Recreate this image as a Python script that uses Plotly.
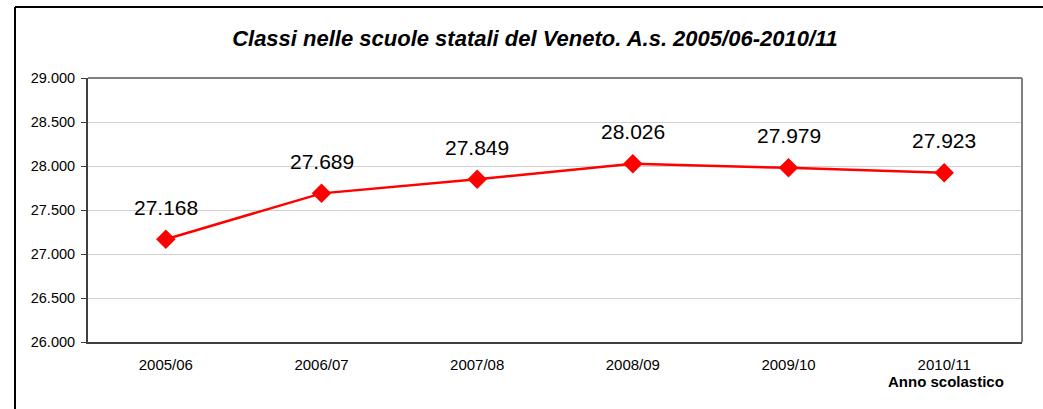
import plotly.graph_objects as go

years = ["2005/06", "2006/07", "2007/08", "2008/09", "2009/10", "2010/11"]
classes = [27168, 27689, 27849, 28026, 27979, 27923]
label_text = ["27.168", "27.689", "27.849", "28.026", "27.979", "27.923"]
y_ticks = [26000, 26500, 27000, 27500, 28000, 28500, 29000]
y_tick_text = ["26.000", "26.500", "27.000", "27.500", "28.000", "28.500", "29.000"]

W, H = 1043, 409
L, R, T, B = 88, 21, 78, 67
pw, ph = W - L - R, H - T - B
FONT = "Liberation Sans, Arial"

def px(x):
    return (x - L) / pw

def py(y):
    return (H - B - y) / ph

fig = go.Figure()
fig.add_trace(go.Scatter(
    x=years, y=classes, mode="lines+markers",
    line=dict(color="#ff0000", width=2.5),
    marker=dict(symbol="diamond", size=15, color="#ff0000"),
    cliponaxis=False, hoverinfo="skip", showlegend=False,
))

for xv, yv, t in zip(years, classes, label_text):
    fig.add_annotation(x=xv, y=yv, text=t, showarrow=False, yshift=32,
                       xanchor="center", yanchor="middle",
                       font=dict(family=FONT, size=21, color="#000"))

fig.add_annotation(x=px(946), y=py(381), xref="paper", yref="paper", text="<b>Anno scolastico</b>",
                   xanchor="center", yanchor="middle", showarrow=False,
                   font=dict(family=FONT, size=15, color="#000"))

# plot area frame
fig.add_shape(type="line", xref="paper", yref="paper", x0=0, x1=1, y0=1, y1=1,
              line=dict(color="#808080", width=2))
fig.add_shape(type="line", xref="paper", yref="paper", x0=1, x1=1, y0=0, y1=1,
              line=dict(color="#808080", width=2))
# outer chart border (left and top)
fig.add_shape(type="line", xref="paper", yref="paper", x0=px(15), x1=px(15), y0=py(415), y1=py(7),
              line=dict(color="#000", width=2))
fig.add_shape(type="line", xref="paper", yref="paper", x0=px(15), x1=px(1043), y0=py(7), y1=py(7),
              line=dict(color="#000", width=2))

fig.update_layout(
    width=W, height=H,
    margin=dict(l=L, r=R, t=T, b=B),
    paper_bgcolor="white", plot_bgcolor="white",
    separators=",.",
    title=dict(text="<b><i>Classi nelle scuole statali del Veneto. A.s. 2005/06-2010/11</i></b>",
               xref="container", yref="container",
               x=535 / W, xanchor="center", y=1 - 38 / H, yanchor="middle",
               font=dict(family=FONT, size=22, color="#000")),
    xaxis=dict(type="category", range=[-0.5, 5.5], showgrid=False,
               showline=True, linecolor="#404040", linewidth=2, mirror=False,
               ticks="", ticklabelstandoff=8,
               tickfont=dict(family=FONT, size=15, color="#000"),
               fixedrange=True),
    yaxis=dict(range=[26000, 29000], tickvals=y_ticks, ticktext=y_tick_text,
               showgrid=True, gridcolor="#d0d0d0", gridwidth=1,
               showline=True, linecolor="#404040", linewidth=2,
               ticks="outside", ticklen=5, tickcolor="#404040", tickwidth=1,
               ticklabelstandoff=3, zeroline=False,
               tickfont=dict(family=FONT, size=14.5, color="#000"),
               fixedrange=True),
)

fig.write_html("out.html", config={"displayModeBar": False},
               post_script="document.body.style.margin='0';")
